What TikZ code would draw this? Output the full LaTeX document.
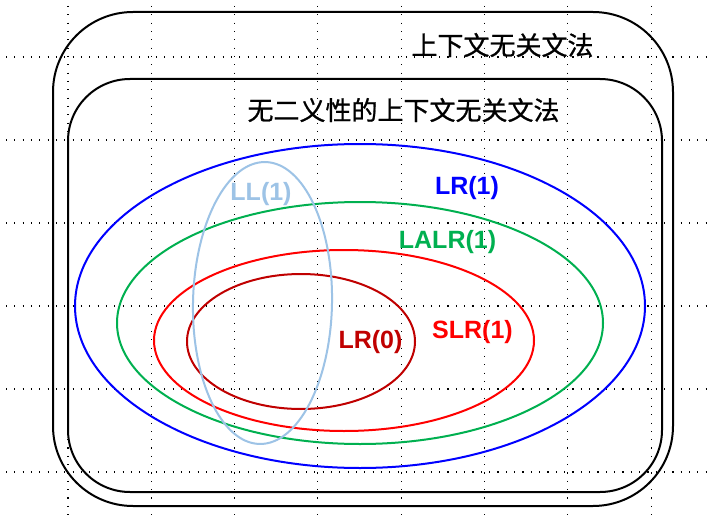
\documentclass[tikz,border=0pt]{standalone}
\usepackage{fontspec}
\setmainfont{Liberation Sans}
\newfontfamily\cjkfont[FakeBold=0.8]{Noto Sans CJK SC}
\usetikzlibrary{shapes.geometric}
\definecolor{lrblue}{RGB}{0,0,255}
\definecolor{lalrgreen}{RGB}{0,176,80}
\definecolor{slrred}{RGB}{255,0,0}
\definecolor{lrzero}{RGB}{192,0,0}
\definecolor{llblue}{RGB}{157,195,230}
\begin{document}
\begin{tikzpicture}[x=1pt,y=-1pt,
  gridline/.style={black, line width=1.1pt, dash pattern=on 1.1pt off 7.23pt, dash phase=-6pt},
  frame/.style={draw=black, line width=2pt, rectangle, inner sep=0pt},
  ell/.style={draw, ellipse, line width=2pt, inner sep=0pt},
  lab/.style={font=\bfseries\fontsize{25}{30}\selectfont, anchor=base, inner sep=0pt},
  cjk/.style={font=\cjkfont\fontsize{26}{30}\selectfont, anchor=base, inner sep=0pt}]
\useasboundingbox (0,0) rectangle (707,519);
\fill[white] (0,0) rectangle (707,519);
\foreach \i in {0,...,7} \draw[gridline] ({68+83.3*\i},0) -- ({68+83.3*\i},519);
\foreach \j in {0,...,5} \draw[gridline] (0,{57+83*\j}) -- (707,{57+83*\j});

\node[frame, rounded corners=80pt, minimum width=620pt, minimum height=494pt] (cfg) at (363,259) {};
\node[frame, rounded corners=62pt, minimum width=594pt, minimum height=413pt] (ucfg) at (365,285.5) {};

\node[cjk] (t1) at (502.5,55) {上下文无关文法};
\node[cjk] (t2) at (403.5,120) {无二义性的上下文无关文法};

\node[ell, draw=lrblue, minimum width=570pt, minimum height=324pt] (lr1) at (360,306) {};
\node[ell, draw=lalrgreen, minimum width=486pt, minimum height=242pt] (lalr) at (360,323) {};
\node[ell, draw=slrred, minimum width=380pt, minimum height=181pt] (slr) at (344,340.5) {};
\node[ell, draw=lrzero, minimum width=228pt, minimum height=135pt] (lr0) at (301,341.5) {};
\node[ell, draw=llblue, minimum width=139pt, minimum height=282pt, rotate=-1.2] (ll1) at (262.5,303) {};

\node[lab, text=lrblue] (lr1t) at (467,194) {LR(1)};
\node[lab, text=lalrgreen] (lalrt) at (447.5,248.5) {LALR(1)};
\node[lab, text=llblue] (ll1t) at (261,200.5) {LL(1)};
\node[lab, text=lrzero] (lr0t) at (370.5,348.5) {LR(0)};
\node[lab, text=slrred] (slrt) at (472.5,338.5) {SLR(1)};
\end{tikzpicture}
\end{document}
